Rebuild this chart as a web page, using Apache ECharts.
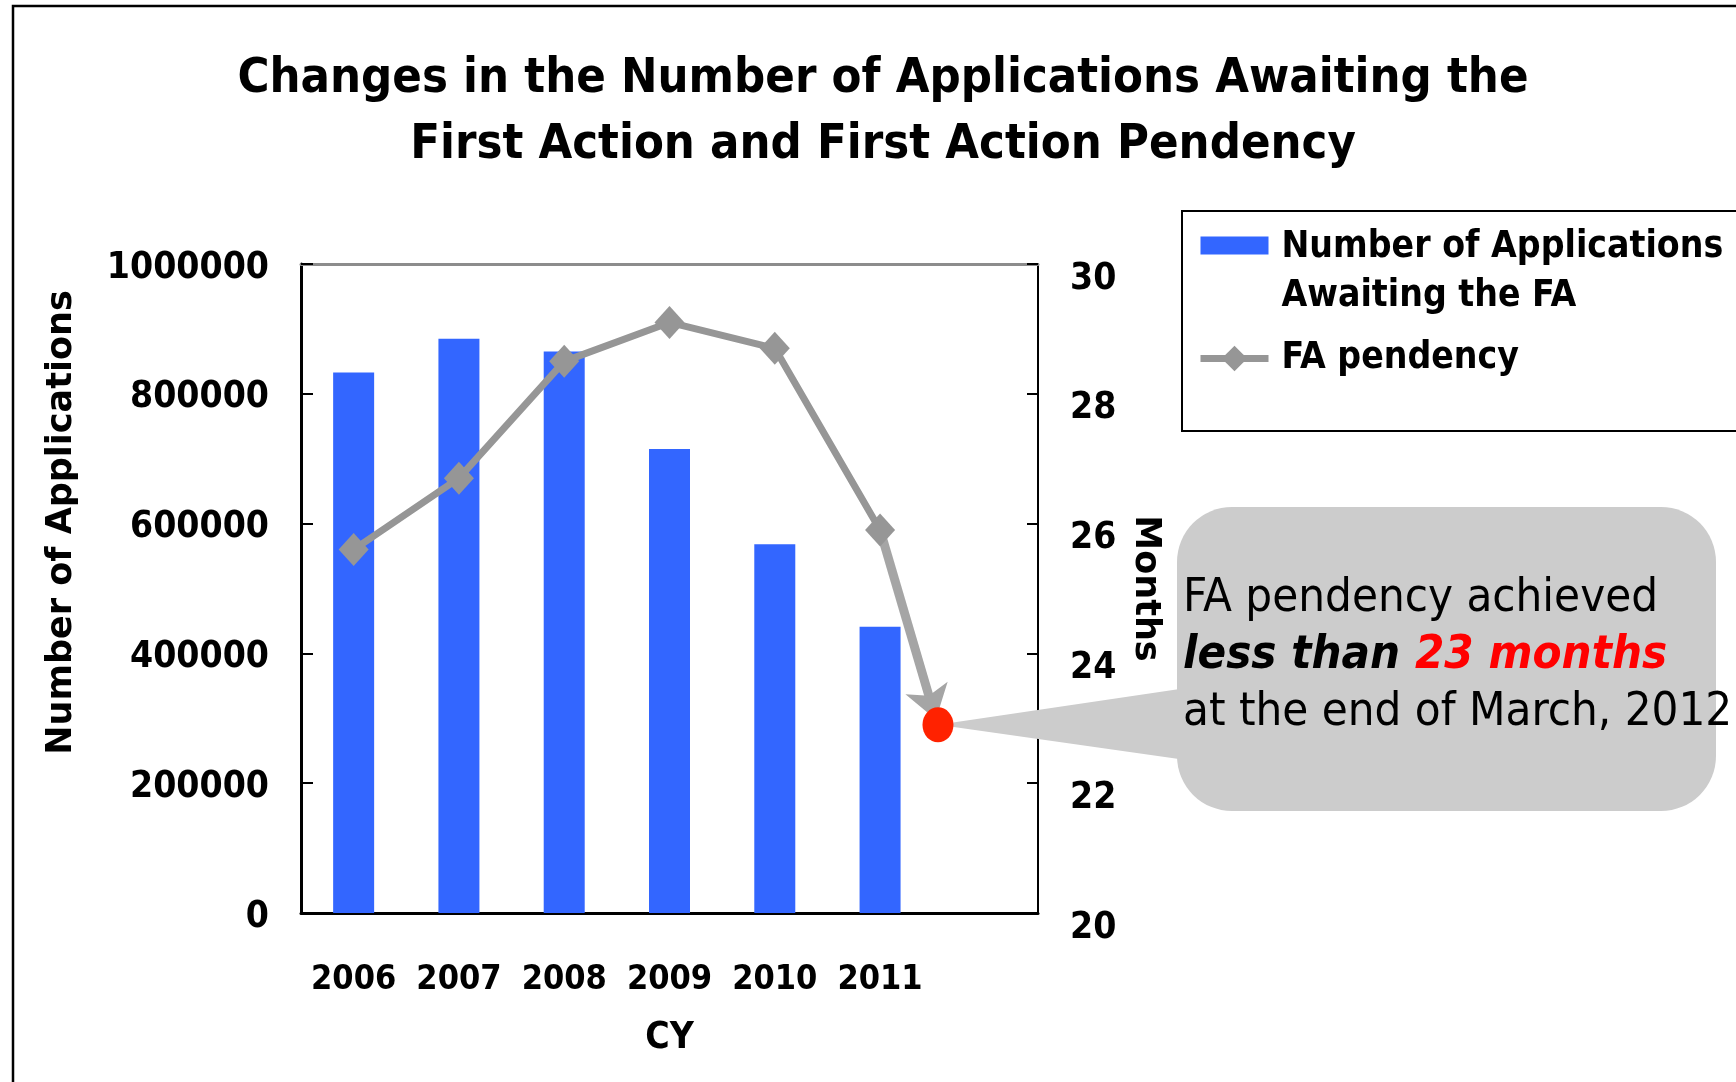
<!DOCTYPE html>
<html>
<head>
<meta charset="utf-8">
<script src="https://cdn.jsdelivr.net/npm/echarts@6/dist/echarts.min.js"></script>
<style>
    html, body { margin: 0; padding: 0; background: #fff; }
    #chart { width: 1736px; height: 1082px; }
</style>
</head>
<body>
<div id="chart"></div>
<script>
    // categories (last slot is left empty, the 2012 dot sits on its edge)
    const years = ['2006', '2007', '2008', '2009', '2010', '2011', '']
    const awaitingFA = [833000, 885000, 865000, 715000, 568000, 441000]
    const pendency = [25.6, 26.7, 28.5, 29.1, 28.7, 25.9]
    // end of March 2012 on the hidden value x axis (index units), months
    const march2012 = [5.55, 22.9]
    const arrowPath = [[5, 25.9], [5.53, 22.98]]
    const leftRange = [0, 1000000, 200000]
    const rightRange = [20, 30, 2]

    const barName = 'Number of Applications\nAwaiting the FA'
    const lineName = 'FA pendency'

    const condensed = '"DejaVu Sans Condensed", "Liberation Sans Narrow", "DejaVu Sans", sans-serif'
    const wide = '"DejaVu Sans", Verdana, sans-serif'

    let labelStyle = {
        fontFamily: condensed,
        fontWeight: 'bold',
        fontSize: 37,
        color: '#000'
    }

    let chart = echarts.init(document.getElementById('chart'))
    let option = {
        animation: false,
        backgroundColor: '#fff',
        textStyle: { fontFamily: condensed },
        title: {
            text: 'Changes in the Number of Applications Awaiting the\nFirst Action and First Action Pendency',
            left: 883,
            top: 46,
            textAlign: 'center',
            padding: 0,
            textStyle: {
                fontFamily: condensed,
                fontWeight: 'bold',
                fontSize: 48.5,
                lineHeight: 66,
                color: '#000'
            }
        },
        legend: {
            orient: 'vertical',
            left: 1197,
            top: 174,
            padding: 0,
            itemGap: 13,
            itemWidth: 68,
            itemHeight: 32,
            lineStyle: { width: 7 },
            // blank first line keeps the icon level with the first text line
            formatter: name => name === barName ? ' \n' + name : name,
            textStyle: Object.assign({}, labelStyle, { lineHeight: 49, padding: [0, 0, 0, 8] }),
            data: [
                { name: barName, icon: 'path://M0,0L68,0M0,5H68V23H0ZM0,32L68,32' },
                { name: lineName }
            ]
        },
        grid: {
            left: 301,
            right: 698,
            top: 264,
            bottom: 169,
            outerBoundsMode: 'none'
        },
        xAxis: [{
            type: 'category',
            data: years,
            position: 'bottom',
            axisLine: { onZero: false, lineStyle: { color: '#000', width: 3 } },
            axisTick: { inside: true, length: 14, lineStyle: { color: '#000', width: 2 } },
            axisLabel: Object.assign({}, labelStyle, { margin: 50, fontSize: 34, interval: 0 }),
            name: 'CY',
            nameLocation: 'middle',
            nameGap: 107,
            nameMoveOverlap: false,
            nameTextStyle: labelStyle
        }, {
            type: 'value',
            min: -0.5,
            max: 6.5,
            position: 'top',
            axisLine: { show: true, onZero: false, lineStyle: { color: '#8c8c8c', width: 3 } },
            axisTick: { show: false },
            axisLabel: { show: false },
            splitLine: { show: false }
        }],
        yAxis: [{
            type: 'value',
            min: leftRange[0],
            max: leftRange[1],
            interval: leftRange[2],
            position: 'left',
            axisLine: { show: true, onZero: false, lineStyle: { color: '#000', width: 3 } },
            axisTick: { show: true, inside: true, length: 12, lineStyle: { color: '#000', width: 2 } },
            axisLabel: Object.assign({}, labelStyle, {
                margin: 32,
                verticalAlign: 'top',
                lineHeight: 8,
                formatter: v => String(v)
            }),
            splitLine: { show: false },
            name: 'Number of Applications',
            nameLocation: 'middle',
            nameRotate: 90,
            nameGap: 222,
            nameMoveOverlap: false,
            nameTextStyle: {
                fontFamily: wide,
                fontWeight: 'bold',
                fontSize: 35,
                color: '#000',
                padding: [0, 0, 0, 132]
            }
        }, {
            type: 'value',
            min: rightRange[0],
            max: rightRange[1],
            interval: rightRange[2],
            position: 'right',
            axisLine: { show: true, onZero: false, lineStyle: { color: '#000', width: 2 } },
            axisTick: { show: true, inside: true, length: 11, lineStyle: { color: '#000', width: 2 } },
            axisLabel: Object.assign({}, labelStyle, { margin: 32, verticalAlign: 'top', lineHeight: 30 }),
            splitLine: { show: false },
            name: 'Months',
            nameLocation: 'middle',
            nameRotate: -90,
            nameGap: 90,
            nameMoveOverlap: false,
            nameTextStyle: {
                fontFamily: wide,
                fontWeight: 'bold',
                fontSize: 35,
                color: '#000'
            }
        }],
        series: [{
            name: barName,
            type: 'bar',
            data: awaitingFA,
            barWidth: 41,
            itemStyle: { color: '#3366ff' }
        }, {
            name: lineName,
            type: 'line',
            data: pendency,
            yAxisIndex: 1,
            symbol: 'diamond',
            symbolSize: [30, 33],
            lineStyle: { color: '#969696', width: 7 },
            itemStyle: { color: '#969696' },
            z: 4
        }, {
            type: 'lines',
            coordinateSystem: 'cartesian2d',
            xAxisIndex: 1,
            yAxisIndex: 1,
            data: [{ coords: arrowPath }],
            symbol: ['none', 'arrow'],
            symbolSize: 33,
            lineStyle: { color: '#a5a5a5', width: 9, opacity: 1 },
            silent: true,
            z: 3
        }, {
            type: 'scatter',
            xAxisIndex: 1,
            yAxisIndex: 1,
            data: [march2012],
            symbol: 'circle',
            symbolSize: [31, 35],
            itemStyle: { color: '#ff2200', opacity: 1 },
            z: 5
        }]
    }
    chart.setOption(option)

    // callout bubble pointing at the March 2012 dot
    let tip = chart.convertToPixel({ xAxisIndex: 1, yAxisIndex: 1 }, march2012)
    chart.setOption({
        graphic: [{
            type: 'rect',
            silent: true,
            z: 10,
            shape: { x: 13, y: 6, width: 1800, height: 1200 },
            style: { fill: 'transparent', stroke: '#000', lineWidth: 2.5 }
        }, {
            type: 'rect',
            silent: true,
            z: 10,
            shape: { x: 1182, y: 211, width: 700, height: 220 },
            style: { fill: 'transparent', stroke: '#000', lineWidth: 2 }
        }, {
            type: 'polygon',
            silent: true,
            z: 1,
            shape: { points: [tip, [1200, 686], [1200, 762]] },
            style: { fill: '#cccccc' }
        }, {
            type: 'rect',
            silent: true,
            z: 1,
            shape: { x: 1177, y: 507, width: 539, height: 304, r: 55 },
            style: { fill: '#cccccc' }
        }, {
            type: 'text',
            silent: true,
            z: 11,
            x: 1183,
            y: 570,
            style: {
                text: '{n|FA pendency achieved}\n{b|less than }{r|23 months}\n{n|at the end of March, 2012}',
                verticalAlign: 'top',
                rich: {
                    n: { fontFamily: condensed, fontSize: 47, lineHeight: 57, fill: '#000' },
                    b: { fontFamily: condensed, fontSize: 47, fontWeight: 'bold', fontStyle: 'italic', lineHeight: 57, fill: '#000' },
                    r: { fontFamily: condensed, fontSize: 47, fontWeight: 'bold', fontStyle: 'italic', lineHeight: 57, fill: '#ff0000' }
                }
            }
        }]
    })
</script>
</body>
</html>
